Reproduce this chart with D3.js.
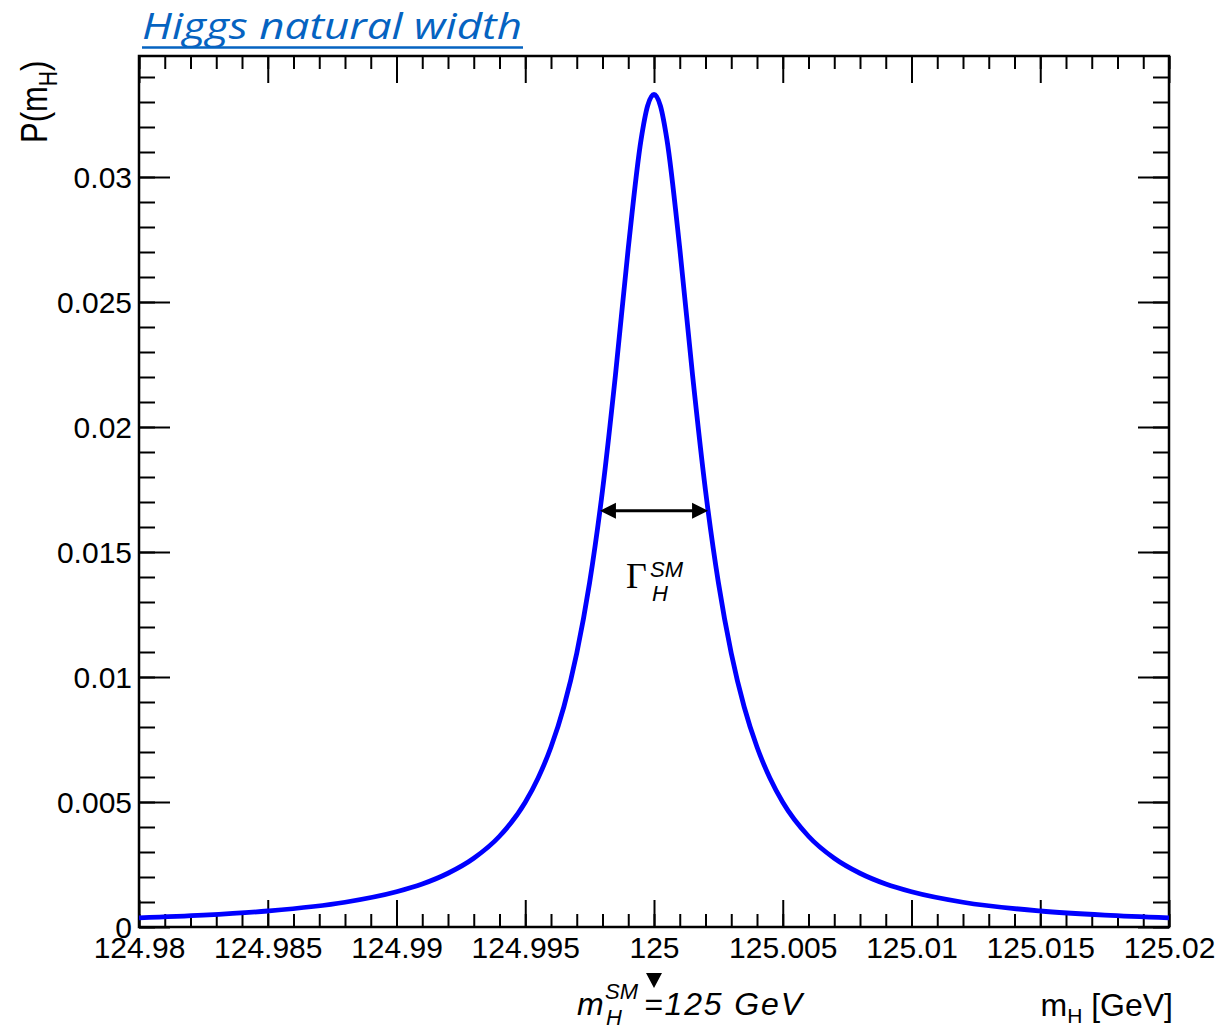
<!DOCTYPE html>
<html>
<head>
  <meta charset="utf-8">
  <script src="https://d3js.org/d3.v7.min.js"></script>
  <style>
    body { margin: 0; background: #fff; }
    text { font-family: "Liberation Sans", Arial, sans-serif; }
  </style>
</head>
<body>
<div id="chart"></div>
<script>
  // m_H values (GeV) and probability
  var massValues = [124.98, 124.9825, 124.985, 124.988, 124.99, 124.991, 124.992, 124.993, 124.994,
    124.995, 124.9955, 124.996, 124.9965, 124.997, 124.9975, 124.998, 124.9985, 124.999, 124.9995,
    124.99975, 125,
    125.00025, 125.0005, 125.001, 125.0015, 125.002, 125.0025, 125.003, 125.0035, 125.004, 125.0045,
    125.005, 125.006, 125.007, 125.008, 125.009, 125.01, 125.012, 125.015, 125.0175, 125.02];
  var probValues = [0.000363, 0.000473, 0.00064, 0.00099, 0.00141, 0.00172, 0.00215, 0.00275, 0.00363,
    0.00499, 0.00596, 0.00720, 0.00881, 0.01095, 0.01378, 0.01746, 0.02205, 0.02715, 0.03151,
    0.03284, 0.0333,
    0.03284, 0.03151, 0.02715, 0.02205, 0.01746, 0.01378, 0.01095, 0.00881, 0.00720, 0.00596,
    0.00499, 0.00363, 0.00275, 0.00215, 0.00172, 0.00141, 0.00099, 0.00064, 0.000473, 0.000363];

  var xTicks = [124.98, 124.985, 124.99, 124.995, 125, 125.005, 125.01, 125.015, 125.02];
  var xTickLabels = ["124.98", "124.985", "124.99", "124.995", "125", "125.005", "125.01", "125.015", "125.02"];
  var yTicks = [0, 0.005, 0.01, 0.015, 0.02, 0.025, 0.03];
  var yTickLabels = ["0", "0.005", "0.01", "0.015", "0.02", "0.025", "0.03"];

  // width annotation (half maximum)
  var widthLow = 124.9979, widthHigh = 125.0021, halfMax = 0.01665;
  var massSM = 125;

  var W = 1220, H = 1029;
  var margin = {top: 56, right: 51, bottom: 102, left: 139};
  var width = W - margin.left - margin.right,
      height = H - margin.top - margin.bottom;

  var svg = d3.select("#chart").append("svg")
    .attr("width", W).attr("height", H)
    .style("background", "#fff");

  // title
  svg.append("text")
    .attr("x", 142).attr("y", 39)
    .attr("textLength", 380).attr("lengthAdjust", "spacingAndGlyphs")
    .style("font-family", "'Open Sans', 'Noto Sans', sans-serif")
    .style("font-style", "italic")
    .style("font-size", "37px")
    .style("fill", "#0563c1")
    .text("Higgs natural width");
  svg.append("line")
    .attr("x1", 142).attr("x2", 523).attr("y1", 47.5).attr("y2", 47.5)
    .style("stroke", "#0563c1").style("stroke-width", 2.5);

  var g = svg.append("g")
    .attr("transform", "translate(" + margin.left + "," + margin.top + ")");

  var x = d3.scaleLinear().domain([124.98, 125.02]).range([0, width]);
  var y = d3.scaleLinear().domain([0, height * 0.03 / 750]).range([height, 0]);

  var xMinor = d3.range(0, 41).map(function(i) { return 124.98 + i * 0.001; });
  var yMinor = d3.range(0, 35).map(function(i) { return i * 0.001; });

  function styleAxis(sel) {
    sel.select(".domain").remove();
    sel.selectAll("line").style("stroke", "#000").style("stroke-width", 2);
    sel.selectAll("text").style("font-size", "30px").style("fill", "#000")
      .style("font-family", "'Liberation Sans', Arial, sans-serif");
  }

  // minor ticks, all four sides
  g.append("g").attr("transform", "translate(0," + height + ")")
    .call(d3.axisBottom(x).tickValues(xMinor).tickSize(-13).tickFormat("")).call(styleAxis);
  g.append("g")
    .call(d3.axisTop(x).tickValues(xMinor).tickSize(-13).tickFormat("")).call(styleAxis);
  g.append("g")
    .call(d3.axisLeft(y).tickValues(yMinor).tickSize(-16).tickFormat("")).call(styleAxis);
  g.append("g").attr("transform", "translate(" + width + ",0)")
    .call(d3.axisRight(y).tickValues(yMinor).tickSize(-16).tickFormat("")).call(styleAxis);

  // major ticks with labels
  g.append("g").attr("transform", "translate(0," + height + ")")
    .call(d3.axisBottom(x).tickValues(xTicks).tickSize(-27).tickPadding(10)
      .tickFormat(function(d, i) { return xTickLabels[i]; }))
    .call(styleAxis);
  g.append("g")
    .call(d3.axisTop(x).tickValues(xTicks).tickSize(-27).tickFormat("")).call(styleAxis);
  var yAxisG = g.append("g")
    .call(d3.axisLeft(y).tickValues(yTicks).tickSize(-31).tickPadding(7)
      .tickFormat(function(d, i) { return yTickLabels[i]; }))
    .call(styleAxis);
  yAxisG.selectAll("text").attr("dy", "0.36em");
  g.append("g").attr("transform", "translate(" + width + ",0)")
    .call(d3.axisRight(y).tickValues(yTicks).tickSize(-31).tickFormat("")).call(styleAxis);

  // frame
  g.append("rect")
    .attr("width", width).attr("height", height)
    .style("fill", "none").style("stroke", "#000").style("stroke-width", 2.5);

  // curve
  var pts = massValues.map(function(m, i) { return [m, probValues[i]]; });
  g.append("path")
    .datum(pts)
    .attr("d", d3.line()
      .x(function(d) { return x(d[0]); })
      .y(function(d) { return y(d[1]); })
      .curve(d3.curveMonotoneX))
    .style("fill", "none").style("stroke", "#0000ff").style("stroke-width", 4.8);

  // width arrow
  var ay = y(halfMax), ax1 = x(widthLow), ax2 = x(widthHigh);
  g.append("line")
    .attr("x1", ax1 + 10).attr("x2", ax2 - 10).attr("y1", ay).attr("y2", ay)
    .style("stroke", "#000").style("stroke-width", 3);
  g.append("path")
    .attr("d", "M" + ax1 + "," + ay + "L" + (ax1 + 16) + "," + (ay - 8) + "L" + (ax1 + 16) + "," + (ay + 8) + "Z")
    .style("fill", "#000");
  g.append("path")
    .attr("d", "M" + ax2 + "," + ay + "L" + (ax2 - 16) + "," + (ay - 8) + "L" + (ax2 - 16) + "," + (ay + 8) + "Z")
    .style("fill", "#000");

  // Gamma_H^SM label
  var gx = x(massSM);
  g.append("text")
    .attr("x", gx - 28).attr("y", ay + 77)
    .style("font-family", "'Liberation Serif', 'Times New Roman', serif")
    .style("font-size", "36px")
    .text("\u0393");
  g.append("text")
    .attr("x", gx - 4).attr("y", ay + 66)
    .style("font-style", "italic").style("font-size", "22px")
    .text("SM");
  g.append("text")
    .attr("x", gx - 2).attr("y", ay + 90)
    .style("font-style", "italic").style("font-size", "22px")
    .text("H");

  // axis titles
  var yt = svg.append("text")
    .attr("transform", "translate(47,143) rotate(-90) scale(1,1.2)")
    .style("font-size", "31px");
  yt.append("tspan").text("P(m");
  yt.append("tspan").attr("dy", 8).style("font-size", "21px").text("H");
  yt.append("tspan").attr("dy", -8).text(")");

  var xt = svg.append("text")
    .attr("x", 1173).attr("y", 1016)
    .attr("text-anchor", "end")
    .style("font-size", "32px");
  xt.append("tspan").text("m");
  xt.append("tspan").attr("dy", 7).style("font-size", "21px").text("H");
  xt.append("tspan").attr("dy", -7).text(" [GeV]");

  // SM mass marker below the axis
  var mx = margin.left + x(massSM);
  svg.append("path")
    .attr("d", "M" + (mx - 8) + ",973L" + (mx + 8) + ",973L" + mx + ",988Z")
    .style("fill", "#000");
  svg.append("text")
    .attr("x", mx - 77).attr("y", 1015)
    .style("font-style", "italic").style("font-size", "32px")
    .text("m");
  svg.append("text")
    .attr("x", mx - 49).attr("y", 999)
    .style("font-style", "italic").style("font-size", "22px")
    .text("SM");
  svg.append("text")
    .attr("x", mx - 48).attr("y", 1025)
    .style("font-style", "italic").style("font-size", "22px")
    .text("H");
  svg.append("text")
    .attr("x", mx - 10).attr("y", 1015)
    .attr("textLength", 158).attr("lengthAdjust", "spacing")
    .style("font-style", "italic").style("font-size", "32px")
    .text("=125 GeV");
</script>
</body>
</html>
